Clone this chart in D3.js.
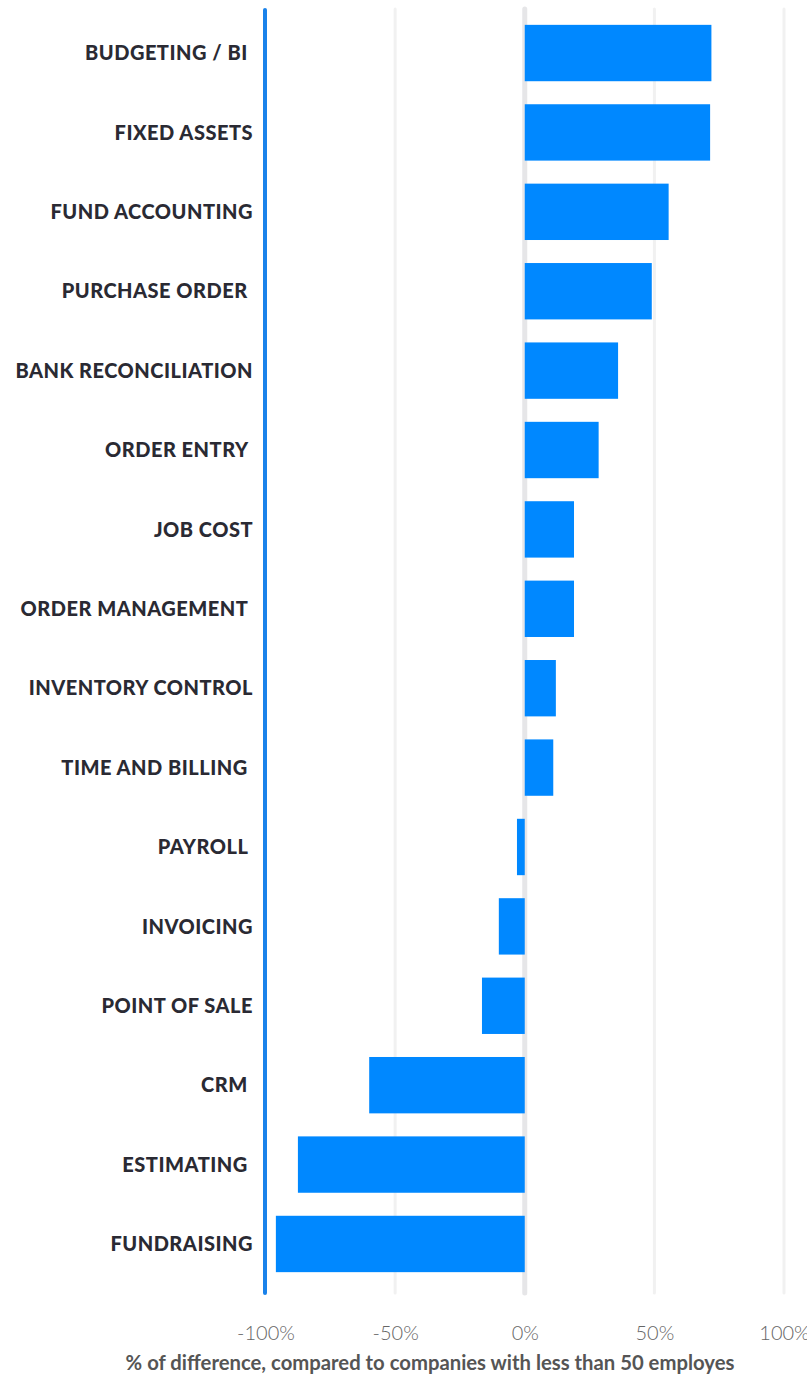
<!DOCTYPE html>
<html>
<head>
<meta charset="utf-8">
<script src="https://cdn.jsdelivr.net/npm/d3@7"></script>
<style>
    body { margin: 0; background: #fff; }
    svg text { white-space: pre; }
</style>
</head>
<body>
<svg id="chart" width="807" height="1376"></svg>
<script>
// data
const categories = [
    "BUDGETING / BI ", "FIXED ASSETS", "FUND ACCOUNTING", "PURCHASE ORDER ",
    "BANK RECONCILIATION", "ORDER ENTRY ", "JOB COST", "ORDER MANAGEMENT ",
    "INVENTORY CONTROL", "TIME AND BILLING ", "PAYROLL ", "INVOICING",
    "POINT OF SALE", "CRM ", "ESTIMATING ", "FUNDRAISING"
];
const values = [72, 71.5, 55.5, 49, 36, 28.5, 19, 19, 12, 11, -3, -10, -16.5, -60, -87.5, -96];
const ticks = [-100, -50, 0, 50, 100];
const axisTitle = "% of difference, compared to companies with less than 50 employes";

const svg = d3.select("#chart");

const x = d3.scaleLinear().domain([-100, 100]).range([265.5, 784]);
const y = d3.scaleBand()
    .domain(categories)
    .range([5, 1292])
    .paddingInner(0.29)
    .paddingOuter(0.25);

// grid lines
svg.append("g")
    .selectAll("line")
    .data(ticks.filter(t => t !== -100))
    .join("line")
    .attr("x1", d => x(d)).attr("x2", d => x(d))
    .attr("y1", 9).attr("y2", 1293)
    .attr("stroke", d => d === 0 ? "#e6e6e8" : "#f1f1f1")
    .attr("stroke-width", d => d === 0 ? 5 : 3)
    .attr("stroke-linecap", "round");

// bars
svg.append("g")
    .selectAll("rect")
    .data(values)
    .join("rect")
    .attr("x", d => x(Math.min(0, d)))
    .attr("y", (d, i) => y(categories[i]))
    .attr("width", d => Math.abs(x(d) - x(0)))
    .attr("height", y.bandwidth())
    .attr("fill", "#0088ff");

// left axis line
svg.append("line")
    .attr("x1", 265).attr("x2", 265)
    .attr("y1", 10).attr("y2", 1293)
    .attr("stroke", "#1a82ea")
    .attr("stroke-width", 4)
    .attr("stroke-linecap", "round");

// category labels
svg.append("g")
    .selectAll("text")
    .data(categories)
    .join("text")
    .attr("x", 253)
    .attr("y", d => y(d) + y.bandwidth() / 2)
    .attr("dy", "0.36em")
    .attr("text-anchor", "end")
    .attr("font-family", "Lato, sans-serif")
    .attr("font-weight", 900)
    .attr("font-size", 20)
    .attr("letter-spacing", 0.5)
    .attr("fill", "#2a2a33")
    .text(d => d);

// x axis
const xAxis = svg.append("g")
    .attr("transform", "translate(0,1323)")
    .call(d3.axisBottom(x).tickValues(ticks).tickFormat(d => d + "%").tickSize(0));
xAxis.select(".domain").remove();
xAxis.selectAll("text")
    .attr("font-family", "Lato, sans-serif")
    .attr("font-weight", 300)
    .attr("font-size", 20)
    .attr("fill", "#666");

svg.append("text")
    .attr("x", 430)
    .attr("y", 1370)
    .attr("text-anchor", "middle")
    .attr("font-family", "Lato, sans-serif")
    .attr("font-weight", 700)
    .attr("font-size", 20.3)
    .attr("fill", "#555")
    .text(axisTitle);
</script>
</body>
</html>
